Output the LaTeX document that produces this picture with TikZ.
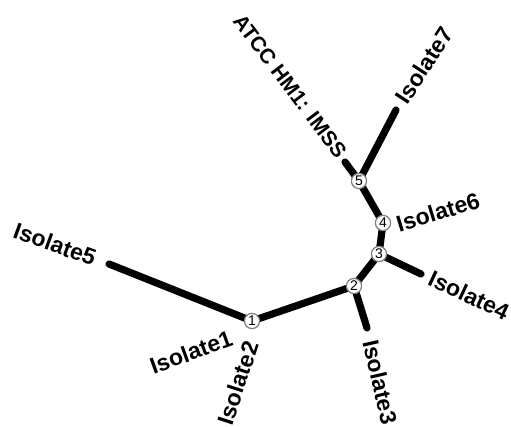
\documentclass[tikz,border=0pt]{standalone}
\usepackage{fontspec}
\setmainfont{Liberation Sans}
\usetikzlibrary{backgrounds}

\begin{document}
\begin{tikzpicture}[x=0.5pt, y=-0.5pt,
  branch/.style={line width=3.6pt, line cap=round},
  fork/.style={circle, draw=gray, fill=white, line width=0.6pt,
               minimum size=7.6pt, inner sep=0pt,
               font=\fontsize{7}{7}\selectfont},
  leaf/.style={font=\fontsize{11.5}{11.5}\selectfont\bfseries, inner sep=0pt}
]
  \useasboundingbox (0,0) rectangle (511,427);

  % internal nodes of the tree
  \node[fork] (n1) at (252,321) {1};
  \node[fork] (n2) at (354,286) {2};
  \node[fork] (n3) at (379,254) {3};
  \node[fork] (n4) at (383,223) {4};
  \node[fork] (n5) at (359,181) {5};

  % leaf tips
  \coordinate (t5) at (109,264);
  \coordinate (t3) at (367,328);
  \coordinate (t4) at (421,274);
  \coordinate (t7) at (396,110);
  \coordinate (ta) at (345,162);

  % leaf labels
  \node[leaf, rotate=-20] (iso5) at (55,244) {Isolate5};
  \node[leaf, rotate=20]  (iso1) at (191,352) {Isolate1};
  \node[leaf, rotate=72]  (iso2) at (238,383) {Isolate2};
  \node[leaf, rotate=-77] (iso3) at (380,382) {Isolate3};
  \node[leaf, rotate=-25] (iso4) at (469,295) {Isolate4};
  \node[leaf, rotate=17]  (iso6) at (438,212) {Isolate6};
  \node[leaf, rotate=57]  (iso7) at (424,65) {Isolate7};
  \node[leaf, rotate=-53, font=\fontsize{10.5}{10.5}\selectfont\bfseries] (atcc) at (290,86) {ATCC HM1: IMSS};

  \begin{scope}[on background layer]
    \draw[branch] (n1.center) -- (t5);
    \draw[branch] (n1.center) -- (n2.center);
    \draw[branch] (n2.center) -- (t3);
    \draw[branch] (n2.center) -- (n3.center);
    \draw[branch] (n3.center) -- (t4);
    \draw[branch] (n3.center) -- (n4.center);
    \draw[branch] (n4.center) -- (n5.center);
    \draw[branch] (n5.center) -- (t7);
    \draw[branch] (n5.center) -- (ta);
  \end{scope}
\end{tikzpicture}
\end{document}
